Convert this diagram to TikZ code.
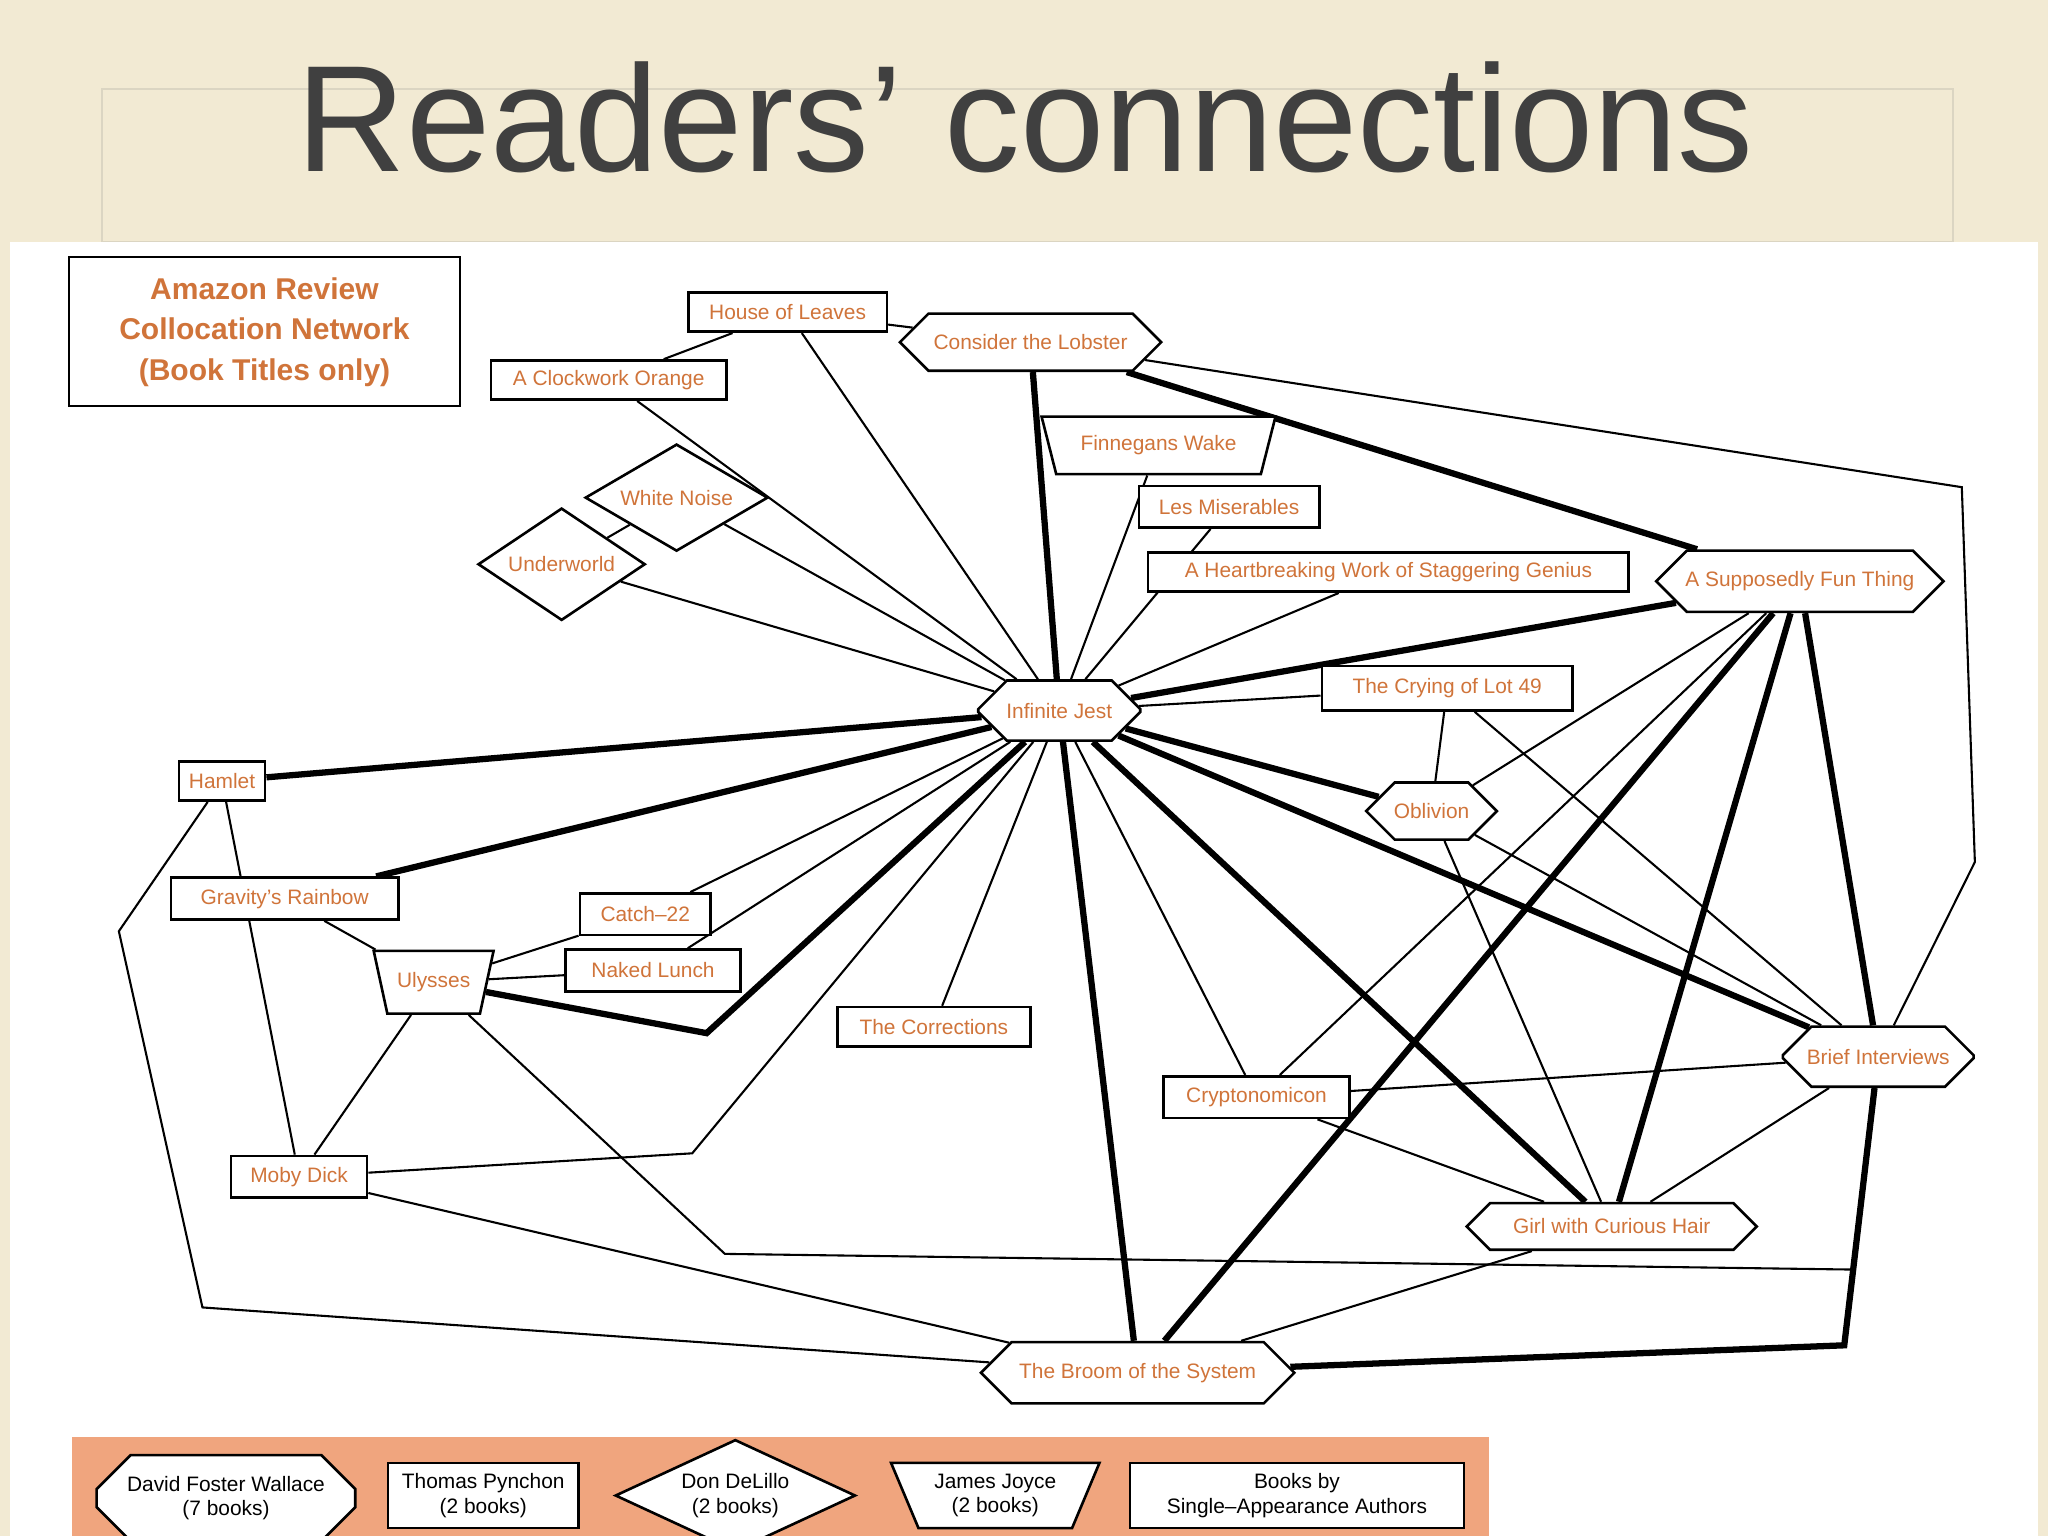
\documentclass[tikz,border=0pt]{standalone}
\usepackage{fontspec}
\setmainfont{Liberation Sans}
\usetikzlibrary{shapes.geometric,shapes.misc,backgrounds}
\definecolor{cream}{HTML}{F2EAD3}
\definecolor{ttl}{HTML}{404040}
\definecolor{org}{HTML}{D0743A}
\definecolor{salmon}{HTML}{F0A57E}
\tikzset{
 base/.style={draw=black,line width=1pt,fill=white,text=org,font=\fontsize{8}{9.5}\selectfont,inner sep=1pt},
 bk/.style={base,rectangle},
 dfw/.style={base,chamfered rectangle,chamfered rectangle xsep=6pt,chamfered rectangle ysep=7pt},
 ddl/.style={base,diamond,aspect=1.6},
 jj/.style={base,trapezium,shape border rotate=180,trapezium left angle=65,trapezium right angle=65},
 thin/.style={line width=0.8pt},
 thk/.style={line width=2.4pt},
 lg/.style={text=black,fill=white}
}
\begin{document}
\begin{tikzpicture}[x=0.5pt,y=-0.5pt]
\useasboundingbox (0,0) rectangle (1568,1176);
\node[text=ttl,font=\fontsize{58}{62}\selectfont] (title) at (785,90) {Readers’ connections};
\node[draw,line width=0.8pt,minimum width=149.5pt,minimum height=57pt,text=org,align=center,font=\bfseries\fontsize{11.5}{15.5}\selectfont] (leg) at (202.5,254) {Amazon Review\\Collocation Network\\(Book Titles only)};
% nodes
\node[bk,minimum width=76pt,minimum height=15pt] (hol) at (603,239) {House of Leaves};
\node[dfw,minimum width=100pt,minimum height=20pt] (ctl) at (789,262) {Consider the Lobster};
\node[bk,minimum width=90pt,minimum height=15pt] (aco) at (466,291) {A Clockwork Orange};
\node[jj,minimum width=90pt,minimum height=22pt,trapezium stretches=true] (fw) at (887,341) {Finnegans Wake};
\node[ddl,minimum width=70pt,minimum height=41pt] (wn) at (518,381) {White Noise};
\node[ddl,minimum width=64pt,minimum height=43pt] (uw) at (430,432) {Underworld};
\node[bk,minimum width=69pt,minimum height=16pt] (lm) at (941,388) {Les Miserables};
\node[bk,minimum width=184pt,minimum height=15pt] (ahw) at (1063,438) {A Heartbreaking Work of Staggering Genius};
\node[dfw,minimum width=110pt,minimum height=23pt] (asf) at (1378,445) {A Supposedly Fun Thing};
\node[bk,minimum width=96pt,minimum height=17pt] (col) at (1108,527) {The Crying of Lot 49};
\node[dfw,minimum width=62pt,minimum height=23pt] (ij) at (811,544) {Infinite Jest};
\node[bk,minimum width=33pt,minimum height=15pt] (ham) at (170,598) {Hamlet};
\node[dfw,minimum width=50pt,minimum height=19pt,chamfered rectangle xsep=4pt] (obl) at (1096,621) {Oblivion};
\node[bk,minimum width=87pt,minimum height=16pt] (gr) at (218,688) {Gravity’s Rainbow};
\node[bk,minimum width=50pt,minimum height=16pt] (c22) at (494,700) {Catch\textendash22};
\node[bk,minimum width=67pt,minimum height=16pt] (nl) at (500,743) {Naked Lunch};
\node[jj,minimum width=46pt,minimum height=24pt,trapezium stretches=true] (uly) at (332,752) {Ulysses};
\node[bk,minimum width=74pt,minimum height=15pt] (cor) at (715,786) {The Corrections};
\node[dfw,minimum width=73pt,minimum height=23pt] (bi) at (1438,809) {Brief Interviews};
\node[bk,minimum width=71pt,minimum height=16pt] (cry) at (962,840) {Cryptonomicon};
\node[bk,minimum width=52pt,minimum height=16pt] (md) at (229,901) {Moby Dick};
\node[dfw,minimum width=111pt,minimum height=17pt,chamfered rectangle ysep=5pt] (gch) at (1234,939) {Girl with Curious Hair};
\node[dfw,minimum width=120pt,minimum height=21pt] (bs) at (871,1051) {The Broom of the System};
% background and edges
\begin{pgfonlayer}{background}
\fill[cream] (0,0) rectangle (1568,1176);
\draw[cream!80!gray,line width=0.8pt] (78,68) rectangle (1495,185);
\fill[white] (8,185) rectangle (1560,1176);
\foreach \t in {hol,aco,wn,uw,fw,lm,ahw,col,c22,nl,cor,cry} \draw[thin] (ij) -- (\t);
\foreach \t in {ctl,asf,ham,gr,bs,gch,obl,bi} \draw[thk] (ij) -- (\t);
\draw[thk] (ij) -- (541,791) -- (uly);
\draw[thin] (ij) -- (530,883) -- (md);
\draw[thin] (hol) -- (ctl);
\draw[thin] (hol) -- (aco);
\draw[thin] (wn) -- (uw);
\draw[thk] (ctl) -- (asf);
\draw[thin] (ctl) -- (1502,373) -- (1512,660) -- (bi);
\draw[thk] (asf) -- (bi); \draw[thk] (asf) -- (bs); \draw[thk] (asf) -- (gch);
\draw[thin] (asf) -- (cry); \draw[thin] (asf) -- (obl);
\draw[thin] (col) -- (obl); \draw[thin] (col) -- (bi);
\draw[thin] (obl) -- (bi); \draw[thin] (obl) -- (gch);
\draw[thin] (bi) -- (cry); \draw[thin] (bi) -- (gch);
\draw[thk] (bi) -- (1412,1030) -- (bs);
\draw[thin] (uly) -- (555,960) -- (1418,972) -- (bi);
\draw[thin] (cry) -- (gch); \draw[thin] (gch) -- (bs);
\draw[thin] (ham) -- (91,713) -- (155,1001) -- (bs);
\draw[thin] (ham) -- (md);
\draw[thin] (gr) -- (uly);
\draw[thin] (uly) -- (c22); \draw[thin] (uly) -- (nl); \draw[thin] (uly) -- (md);
\draw[thin] (md) -- (bs);
\end{pgfonlayer}
% legend bar
\fill[salmon] (55,1100) rectangle (1140,1176);
\begin{scope}[every node/.append style={lg,align=center,font=\fontsize{8}{9.5}\selectfont}]
\node[dfw,minimum width=99pt,minimum height=27pt,text=black] (l1) at (173,1147) {David Foster Wallace\\(7 books)};
\node[bk,minimum width=73pt,minimum height=25pt,text=black] (l2) at (370,1145) {Thomas Pynchon\\(2 books)};
\node[ddl,minimum width=92pt,minimum height=34pt,text=black,inner sep=0pt] (l3) at (563,1145) {Don DeLillo\\(2 books)};
\node[jj,minimum width=80pt,minimum height=25pt,trapezium stretches=true,text=black] (l4) at (762,1145) {James Joyce\\(2 books)};
\node[bk,minimum width=128pt,minimum height=25pt,text=black] (l5) at (993,1145) {Books by\\Single\textendash Appearance Authors};
\end{scope}
\end{tikzpicture}
\end{document}
